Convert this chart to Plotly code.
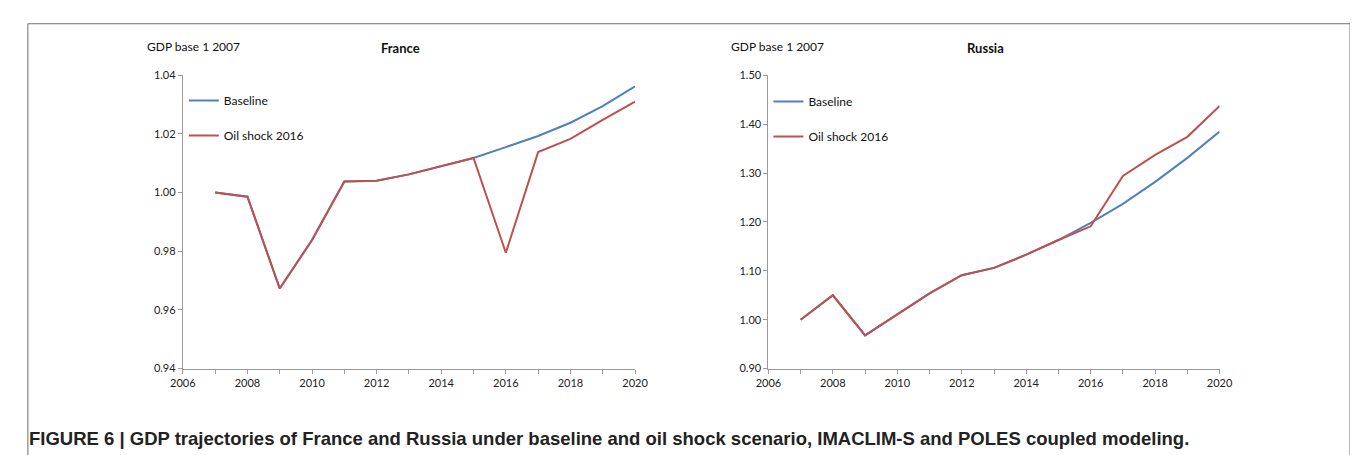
import plotly.graph_objects as go

years = [2007, 2008, 2009, 2010, 2011, 2012, 2013, 2014, 2015, 2016, 2017, 2018, 2019, 2020]

france_baseline = [1.000, 0.9986, 0.9673, 0.9838, 1.0038, 1.0040, 1.0062, 1.0089, 1.0118,
                   1.0155, 1.0193, 1.0238, 1.0295, 1.0362]
france_shock = [1.000, 0.9986, 0.9673, 0.9838, 1.0038, 1.0040, 1.0062, 1.0089, 1.0118,
                0.9795, 1.0138, 1.0183, 1.0248, 1.0310]

russia_baseline = [1.000, 1.050, 0.968, 1.011, 1.054, 1.091, 1.106, 1.133, 1.163,
                   1.198, 1.237, 1.282, 1.331, 1.385]
russia_shock = [1.000, 1.050, 0.968, 1.011, 1.054, 1.091, 1.106, 1.133, 1.163,
                1.191, 1.294, 1.337, 1.374, 1.437]

series_names = ["Baseline", "Oil shock 2016"]
colors = ["#4F81BD", "#C0504D"]

W, H = 1358, 455
FONT = "Lato, Carlito, Calibri, Open Sans, sans-serif"

def px_x(p):
    return p / W

def px_y(p):
    return 1 - p / H

fig = go.Figure()

for name, vals, col in zip(series_names, [france_baseline, france_shock], colors):
    fig.add_trace(go.Scatter(x=years, y=vals, mode="lines", name=name,
                             line=dict(color=col, width=2), xaxis="x", yaxis="y",
                             legend="legend", legendgroup="f" + name))
for name, vals, col in zip(series_names, [russia_baseline, russia_shock], colors):
    fig.add_trace(go.Scatter(x=years, y=vals, mode="lines", name=name,
                             line=dict(color=col, width=2), xaxis="x2", yaxis="y2",
                             legend="legend2", legendgroup="r" + name))

ydom = [px_y(364), px_y(62)]
axis_common = dict(showline=True, linecolor="#9a9a9a", linewidth=1, ticks="outside",
                   tickcolor="#9a9a9a", ticklen=4, showgrid=False, zeroline=False,
                   tickfont=dict(family=FONT, size=11, color="#222"), fixedrange=True)

fig.update_layout(
    width=W, height=H,
    margin=dict(l=0, r=0, t=0, b=0),
    paper_bgcolor="white", plot_bgcolor="white",
    font=dict(family=FONT, color="#111"),
    showlegend=True,
    xaxis=dict(domain=[px_x(165), px_x(626)], range=[2006, 2020], dtick=2, tick0=2006,
               minor=dict(dtick=1, ticks="outside", ticklen=4, tickcolor="#9a9a9a"),
               anchor="y", **axis_common),
    yaxis=dict(domain=ydom, range=[0.94, 1.04], dtick=0.02, tick0=0.94, tickformat=".2f",
               anchor="x", **axis_common),
    xaxis2=dict(domain=[px_x(762), px_x(1222)], range=[2006, 2020], dtick=2, tick0=2006,
                minor=dict(dtick=1, ticks="outside", ticklen=4, tickcolor="#9a9a9a"),
                anchor="y2", **axis_common),
    yaxis2=dict(domain=ydom, range=[0.90, 1.50], dtick=0.1, tick0=0.9, tickformat=".2f",
                anchor="x2", **axis_common),
    legend=dict(x=px_x(166), y=px_y(73), xanchor="left", yanchor="top",
                bgcolor="rgba(0,0,0,0)", font=dict(family=FONT, size=12, color="#111"),
                traceorder="grouped", tracegroupgap=16, itemwidth=30),
    legend2=dict(x=px_x(762), y=px_y(74), xanchor="left", yanchor="top",
                 bgcolor="rgba(0,0,0,0)", font=dict(family=FONT, size=12, color="#111"),
                 traceorder="grouped", tracegroupgap=16, itemwidth=30),
    shapes=[dict(type="rect", xref="paper", yref="paper",
                 x0=px_x(7), x1=px_x(1355), y0=px_y(470), y1=px_y(9),
                 line=dict(color="#6e6e6e", width=1), fillcolor="rgba(0,0,0,0)")],
    annotations=[
        dict(text="GDP base 1 2007", x=px_x(126), y=px_y(32), xref="paper", yref="paper",
             xanchor="left", yanchor="middle", showarrow=False,
             font=dict(family=FONT, size=12, color="#111")),
        dict(text="<b>France</b>", x=px_x(387), y=px_y(34), xref="paper", yref="paper",
             xanchor="center", yanchor="middle", showarrow=False,
             font=dict(family=FONT, size=13, color="#111")),
        dict(text="GDP base 1 2007", x=px_x(722), y=px_y(32), xref="paper", yref="paper",
             xanchor="left", yanchor="middle", showarrow=False,
             font=dict(family=FONT, size=12, color="#111")),
        dict(text="<b>Russia</b>", x=px_x(983), y=px_y(34), xref="paper", yref="paper",
             xanchor="center", yanchor="middle", showarrow=False,
             font=dict(family=FONT, size=13, color="#111")),
        dict(text="<b>FIGURE 6 | GDP trajectories of France and Russia under baseline and oil shock scenario, IMACLIM-S and POLES coupled modeling.</b>",
             x=px_x(6), y=px_y(436), xref="paper", yref="paper",
             xanchor="left", yanchor="middle", showarrow=False,
             font=dict(family="Liberation Sans Narrow, Arial Narrow, Liberation Sans, sans-serif",
                       size=18.5, color="#222")),
    ],
)

fig.write_html("out.html")
